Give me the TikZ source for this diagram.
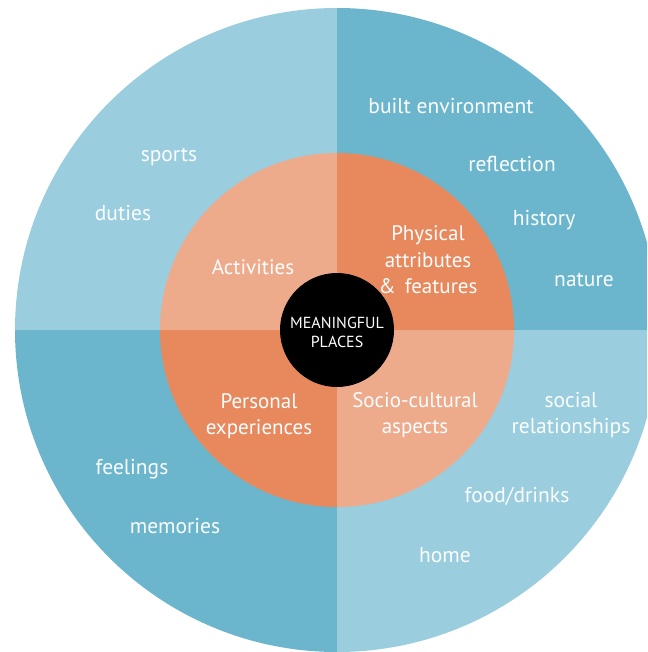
\documentclass[tikz,border=0pt]{standalone}
\usepackage{fontspec}
\setmainfont{PT Sans}
\definecolor{lightblue}{HTML}{9ACDDE}
\definecolor{darkblue}{HTML}{6BB6CD}
\definecolor{lightorange}{HTML}{EEAB8C}
\definecolor{darkorange}{HTML}{E8895D}
\definecolor{labelwhite}{HTML}{FBFDFE}
\tikzset{
  outerlabel/.style={text=labelwhite, font=\fontsize{21.5}{26}\selectfont, align=center, inner sep=0pt},
  innerlabel/.style={text=labelwhite, font=\fontsize{21}{26.5}\selectfont, align=center, inner sep=0pt},
  hublabel/.style={text=labelwhite, font=\fontsize{16}{19}\selectfont, align=center, inner sep=0pt}
}
\begin{document}
\begin{tikzpicture}[x=1pt, y=-1pt]
  \useasboundingbox (0,0) rectangle (647,652);
  \clip (0,0) rectangle (647,652);
  \coordinate (c) at (337,330);
  % outer ring quadrants
  \begin{scope}\clip (0,0) rectangle (337,330); \fill[lightblue] (c) circle (322); \end{scope}
  \begin{scope}\clip (337,0) rectangle (700,330); \fill[darkblue] (c) circle (322); \end{scope}
  \begin{scope}\clip (0,330) rectangle (337,700); \fill[darkblue] (c) circle (322); \end{scope}
  \begin{scope}\clip (337,330) rectangle (700,700); \fill[lightblue] (c) circle (322); \end{scope}
  % inner ring quadrants
  \begin{scope}\clip (0,0) rectangle (337,330); \fill[lightorange] (c) circle (177); \end{scope}
  \begin{scope}\clip (337,0) rectangle (700,330); \fill[darkorange] (c) circle (177); \end{scope}
  \begin{scope}\clip (0,330) rectangle (337,700); \fill[darkorange] (c) circle (177); \end{scope}
  \begin{scope}\clip (337,330) rectangle (700,700); \fill[lightorange] (c) circle (177); \end{scope}
  % hub
  \fill[black] (c) circle (57);
  \node[hublabel] (hub) at (337,332) {MEANINGFUL\\PLACES};
  % inner labels
  \node[innerlabel] (activities) at (253,267) {Activities};
  \node[innerlabel] (physical) at (428,260) {Physical\\attributes\\\&\, features};
  \node[innerlabel] (personal) at (259,416) {Personal\\experiences};
  \node[innerlabel] (socio) at (415,415) {Socio-cultural\\aspects};
  % outer labels
  \node[outerlabel] (sports) at (169,157) {sports};
  \node[outerlabel] (duties) at (123,213) {duties};
  \node[outerlabel] (built) at (451,106) {built environment};
  \node[outerlabel] (reflection) at (512,164) {reflection};
  \node[outerlabel] (history) at (544,220) {history};
  \node[outerlabel] (nature) at (584,280) {nature};
  \node[outerlabel] (social) at (571,415) {social\\relationships};
  \node[outerlabel] (feelings) at (132,469) {feelings};
  \node[outerlabel] (memories) at (175,526) {memories};
  \node[outerlabel] (food) at (517,496) {food/drinks};
  \node[outerlabel] (home) at (445,555) {home};
\end{tikzpicture}
\end{document}
